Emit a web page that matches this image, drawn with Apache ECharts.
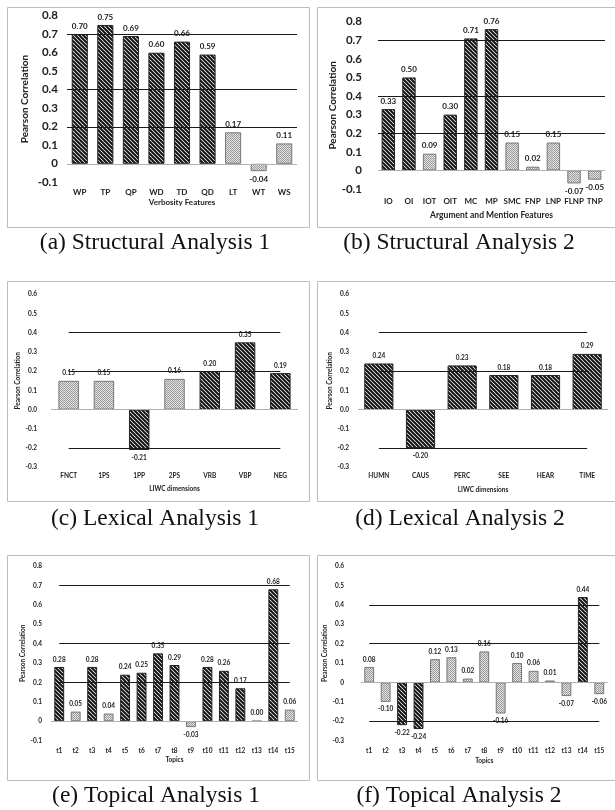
<!DOCTYPE html>
<html><head><meta charset="utf-8">
<script src="https://cdn.jsdelivr.net/npm/echarts@6/dist/echarts.min.js"></script>
<style>html,body{margin:0;padding:0;background:#fff;}#c{width:615px;height:810px;}</style>
</head><body><div id="c"></div>
<script>
// ---------- data ----------
const catsA = ['WP','TP','QP','WD','TD','QD','LT','WT','WS'];
const valsA = [0.70,0.75,0.69,0.60,0.66,0.59,0.17,-0.04,0.11];
const sigA  = [1,1,1,1,1,1,0,0,0];
const refA  = [0.7,0.4,0.2];

const catsB = ['IO','OI','IOT','OIT','MC','MP','SMC','FNP','LNP','FLNP','TNP'];
const valsB = [0.33,0.50,0.09,0.30,0.71,0.76,0.15,0.02,0.15,-0.07,-0.05];
const sigB  = [1,1,0,1,1,1,0,0,0,0,0];
const refB  = [0.7,0.4,0.2];

const catsC = ['FNCT','1PS','1PP','2PS','VRB','VBP','NEG'];
const valsC = [0.15,0.15,-0.21,0.16,0.20,0.35,0.19];
const sigC  = [0,0,1,0,1,1,1];
const refC  = [0.4,0.2,-0.2];

const catsD = ['HUMN','CAUS','PERC','SEE','HEAR','TIME'];
const valsD = [0.24,-0.20,0.23,0.18,0.18,0.29];
const sigD  = [1,1,1,1,1,1];
const refD  = [0.4,0.2,-0.2];

const catsE = ['t1','t2','t3','t4','t5','t6','t7','t8','t9','t10','t11','t12','t13','t14','t15'];
const valsE = [0.28,0.05,0.28,0.04,0.24,0.25,0.35,0.29,-0.03,0.28,0.26,0.17,0.00,0.68,0.06];
const sigE  = [1,0,1,0,1,1,1,1,0,1,1,1,1,1,0];
const refE  = [0.7,0.4,0.2];

const catsF = ['t1','t2','t3','t4','t5','t6','t7','t8','t9','t10','t11','t12','t13','t14','t15'];
const valsF = [0.08,-0.10,-0.22,-0.24,0.12,0.13,0.02,0.16,-0.16,0.10,0.06,0.01,-0.07,0.44,-0.06];
const sigF  = [0,0,1,1,0,0,0,0,0,0,0,0,0,1,0];
const refF  = [0.4,0.2,-0.2];

const yRangeA = [-0.1,0.8], yRangeB = [-0.1,0.8], yRangeC = [-0.3,0.6];
const yRangeD = [-0.3,0.6], yRangeE = [-0.1,0.8], yRangeF = [-0.3,0.6];

const xNames = ['Verbosity Features','Argument and Mention Features','LIWC dimensions','LIWC dimensions','Topics','Topics'];
const yName = 'Pearson Correlation';
const captions = ['(a) Structural Analysis 1','(b) Structural Analysis 2','(c) Lexical Analysis 1','(d) Lexical Analysis 2','(e) Topical Analysis 1','(f) Topical Analysis 2'];

// ---------- layout / style ----------
const FONT = 'Lato';
const panels = [
  {cats:catsA, vals:valsA, sig:sigA, refs:refA, yr:yRangeA, zeroFmt:'0', mode:'full',
   grid:{left:67,top:15.7,width:230,height:166.6}, yFs:11.5, yM:9, yNameFs:10, yNameGap:37,
   xFs:8, xM:6.5, xNameFs:8, xNameGap:16.5, vFs:8, bw:'63%'},
  {cats:catsB, vals:valsB, sig:sigB, refs:refB, yr:yRangeB, zeroFmt:'0', mode:'full',
   grid:{left:378,top:21.7,width:227,height:167.3}, yFs:11.5, yM:16, yNameFs:10, yNameGap:35,
   xFs:8, xM:8.5, xNameFs:8.5, xNameGap:21.5, vFs:8, bw:'65%'},
  {cats:catsC, vals:valsC, sig:sigC, refs:refC, yr:yRangeC, zeroFmt:'0.0', mode:'centers',
   grid:{left:51,top:294.3,width:247,height:173}, yFs:6.5, yM:14, yNameFs:6.5, yNameGap:23,
   xFs:6.5, xM:5, xNameFs:6.5, xNameGap:18, vFs:6.5, bw:'58%'},
  {cats:catsD, vals:valsD, sig:sigD, refs:refD, yr:yRangeD, zeroFmt:'0.0', mode:'centers',
   grid:{left:358,top:294.3,width:250,height:173}, yFs:6.5, yM:9, yNameFs:6.5, yNameGap:20,
   xFs:6.5, xM:5, xNameFs:6.5, xNameGap:19, vFs:6.5, bw:'70%'},
  {cats:catsE, vals:valsE, sig:sigE, refs:refE, yr:yRangeE, zeroFmt:'0', mode:'centers',
   grid:{left:51,top:566,width:247,height:174.7}, yFs:6.5, yM:9, yNameFs:6.5, yNameGap:22,
   xFs:6.5, xM:6.5, xNameFs:6.5, xNameGap:16, vFs:6.5, bw:'60%'},
  {cats:catsF, vals:valsF, sig:sigF, refs:refF, yr:yRangeF, zeroFmt:'0', mode:'centers',
   grid:{left:361,top:566,width:246.5,height:174.7}, yFs:6.5, yM:17, yNameFs:6.5, yNameGap:21,
   xFs:6.5, xM:6.5, xNameFs:6.5, xNameGap:17, vFs:6.5, bw:'60%'}
];
const boxes = [[7,7,302,220],[317,7,298,220],[7,281,302,220],[317,281,298,220],[7,555,302,225],[317,555,298,225]];
const capPos = [[155,243],[459,243],[155,519],[460,519],[156,796],[459,796]];

function hatchCanvas(){
  const c=document.createElement('canvas'); c.width=4; c.height=4;
  const g=c.getContext('2d'); g.fillStyle='#fff'; g.fillRect(0,0,4,4);
  g.strokeStyle='#111'; g.lineWidth=2; g.beginPath();
  g.moveTo(-2,-2); g.lineTo(6,6); g.moveTo(-2,2); g.lineTo(2,6); g.moveTo(2,-2); g.lineTo(6,2);
  g.stroke(); return c;
}
function dotCanvas(){
  const c=document.createElement('canvas'); c.width=2; c.height=2;
  const g=c.getContext('2d'); g.fillStyle='#e4e4e4'; g.fillRect(0,0,2,2);
  g.fillStyle='#9a9a9a'; g.fillRect(0,0,1,1); g.fillRect(1,1,1,1);
  return c;
}
const darkStyle = {color:{image:hatchCanvas(),repeat:'repeat'}, borderColor:'#222', borderWidth:1};
const lightStyle = {color:{image:dotCanvas(),repeat:'repeat'}, borderColor:'#777', borderWidth:1};

const option = {animation:false, backgroundColor:'#fff', grid:[], xAxis:[], yAxis:[], series:[], graphic:[]};
panels.forEach((p,i)=>{
  option.grid.push(Object.assign({containLabel:false}, p.grid));
  option.xAxis.push({type:'category', gridIndex:i, data:p.cats,
    axisLine:{show:false,onZero:false}, axisTick:{show:false},
    axisLabel:{interval:0, margin:p.xM, fontFamily:FONT, fontWeight:'bold', fontSize:p.xFs, color:'#222'},
    name:xNames[i], nameLocation:'middle', nameGap:p.xNameGap,
    nameTextStyle:{fontFamily:FONT, fontWeight:'bold', fontSize:p.xNameFs, color:'#222'}});
  option.yAxis.push({type:'value', gridIndex:i, min:p.yr[0], max:p.yr[1], interval:0.1,
    axisLine:{show:false}, axisTick:{show:false}, splitLine:{show:false},
    axisLabel:{margin:p.yM, fontFamily:FONT, fontWeight:'bold', fontSize:p.yFs, color:'#222',
      formatter:v=>{const r=Math.round(v*10)/10; return r===0?p.zeroFmt:r.toFixed(1);}},
    name:yName, nameLocation:'middle', nameGap:p.yNameGap,
    nameTextStyle:{fontFamily:FONT, fontWeight:'bold', fontSize:p.yNameFs, color:'#222'}});
  const n=p.cats.length;
  const mlData=[{yAxis:0, lineStyle:{color:'#b0b0b0',width:1}}];
  p.refs.forEach(v=>{
    if(p.mode==='full') mlData.push({yAxis:v});
    else mlData.push([{coord:[p.cats[0],v]},{coord:[p.cats[n-1],v]}]);
  });
  option.series.push({type:'bar', xAxisIndex:i, yAxisIndex:i, barWidth:p.bw,
    data:p.vals.map((v,j)=>({value:v, itemStyle:p.sig[j]?darkStyle:lightStyle,
      label:{position:v<0?'bottom':'top'}})),
    label:{show:true, distance:4, formatter:q=>q.value.toFixed(2), fontFamily:FONT, fontWeight:'bold', fontSize:p.vFs, color:'#222'},
    markLine:{silent:true, symbol:['none','none'], label:{show:false}, animation:false,
      lineStyle:{color:'#1a1a1a', width:1, type:'solid'}, data:mlData}
  });
});
boxes.forEach(b=>option.graphic.push({type:'rect', shape:{x:b[0]+0.5,y:b[1]+0.5,width:b[2],height:b[3]},
  style:{fill:'none', stroke:'#bdbdbd', lineWidth:1}, silent:true, z:-1}));
captions.forEach((t,i)=>option.graphic.push({type:'text', x:capPos[i][0], y:capPos[i][1],
  style:{text:t, font:'23.5px "Liberation Serif"', fill:'#111', textAlign:'center', textVerticalAlign:'middle'}, silent:true}));

const chart = echarts.init(document.getElementById('c'), null, {renderer:'canvas'});
chart.setOption(option);
</script></body></html>
